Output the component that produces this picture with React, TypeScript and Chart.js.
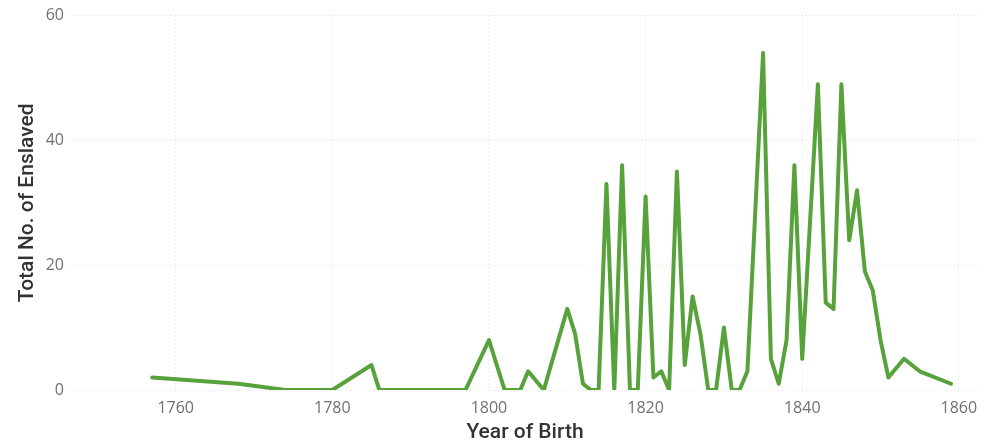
import React, { useEffect, useRef } from "react";
import { Chart, registerables } from "chart.js";

Chart.register(...registerables);

const birthYears = [
  1757, 1768, 1774, 1780, 1785, 1786, 1797, 1800, 1802, 1804,
  1805, 1807, 1810, 1811, 1812, 1813, 1814, 1815, 1816, 1817,
  1818, 1819, 1820, 1821, 1822, 1823, 1824, 1825, 1826, 1827,
  1828, 1829, 1830, 1831, 1832, 1833, 1835, 1836, 1837, 1838,
  1839, 1840, 1842, 1843, 1844, 1845, 1846, 1847, 1848, 1849,
  1850, 1851, 1853, 1855, 1859,
];
const enslavedCounts = [
  2, 1, 0, 0, 4, 0, 0, 8, 0, 0,
  3, 0, 13, 9, 1, 0, 0, 33, 0, 36,
  0, 0, 31, 2, 3, 0, 35, 4, 15, 9,
  0, 0, 10, 0, 0, 3, 54, 5, 1, 8,
  36, 5, 49, 14, 13, 49, 24, 32, 19, 16,
  8, 2, 5, 3, 1,
];
const xTickValues = [1760, 1780, 1800, 1820, 1840, 1860];
const yTickValues = [0, 20, 40, 60];

export default function App() {
  const ref = useRef<HTMLCanvasElement>(null);

  useEffect(() => {
    document.body.style.margin = "0";
    const canvas = ref.current;
    if (!canvas) return;
    const grid = {
      color: "rgba(0,0,0,0.13)",
      lineWidth: 1,
      drawTicks: false,
    };
    const chart = new Chart(canvas, {
      type: "line",
      data: {
        datasets: [
          {
            data: birthYears.map((y, i) => ({ x: y, y: enslavedCounts[i] })),
            borderColor: "#57a23b",
            backgroundColor: "#57a23b",
            borderWidth: 4,
            pointRadius: 0,
            tension: 0,
            borderJoinStyle: "round",
            borderCapStyle: "round",
          },
        ],
      },
      options: {
        responsive: false,
        animation: false,
        devicePixelRatio: 1,
        layout: { padding: { top: 15, right: 10, left: 0, bottom: 0 } },
        plugins: { legend: { display: false }, tooltip: { enabled: false } },
        scales: {
          x: {
            type: "linear",
            min: 1746.5,
            max: 1862.7,
            afterBuildTicks: (s: any) => {
              s.ticks = xTickValues.map((v) => ({ value: v }));
            },
            afterFit: (s: any) => {
              s.height = 55;
            },
            grid: { ...grid } as any,
            border: { display: false, dash: [1, 3] },
            ticks: {
              padding: 9,
              color: "#707070",
              font: { family: "'Open Sans'", size: 16 },
              maxRotation: 0,
              callback: (v: any) => String(v),
            },
            title: {
              display: true,
              text: "Year of Birth",
              color: "#333333",
              font: { family: "Roboto", size: 21, weight: "500" },
              padding: { top: 0, bottom: 0 },
            },
          },
          y: {
            min: 0,
            max: 60,
            afterBuildTicks: (s: any) => {
              s.ticks = yTickValues.map((v) => ({ value: v }));
            },
            afterFit: (s: any) => {
              s.width = 70;
            },
            grid: { ...grid } as any,
            border: { display: false, dash: [1, 3] },
            ticks: {
              padding: 6,
              color: "#707070",
              font: { family: "'Open Sans'", size: 16 },
            },
            title: {
              display: true,
              text: "Total No. of Enslaved",
              color: "#333333",
              font: { family: "Roboto", size: 21, weight: "500" },
              padding: { top: 15, bottom: 0 },
            },
          },
        },
      },
    });
    return () => chart.destroy();
  }, []);

  return (
    <div style={{ width: 990, height: 445 }}>
      <canvas ref={ref} width={990} height={445} style={{ display: "block" }} />
    </div>
  );
}
